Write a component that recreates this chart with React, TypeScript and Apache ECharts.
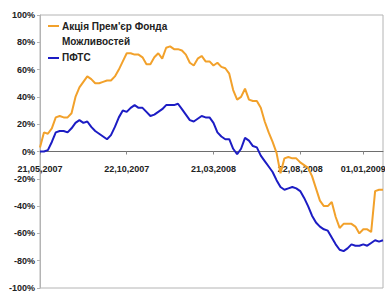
import React, { useEffect, useRef } from "react";
import * as echarts from "echarts";

const seriesNames = ["Акція Прем'єр Фонда Можливостей", "ПФТС"];
const tickLabels = ["21,05,2007", "22,10,2007", "21,03,2008", "22,08,2008", "01,01,2009"];
const tickIndex = [0, 22, 44, 66, 82];

const fundValues = [
  3, 14, 13, 17, 25, 26, 25, 25, 28, 40,
  47, 51, 55, 53, 50, 50, 51, 52, 52, 55,
  60, 66, 72, 72, 71, 71, 69, 64, 64, 69,
  72, 68, 76, 77, 75, 75, 74, 71, 65, 63,
  68, 70, 66, 66, 63, 65, 62, 61, 57, 45,
  38, 40, 46, 38, 37, 37, 32, 22, 14, 7,
  -1, -16, -5, -4, -5, -5, -8, -10, -12, -18,
  -27, -36, -40, -40, -37, -48, -56, -53, -53, -53,
  -55, -60, -57, -57, -59, -29, -28, -28,
];

const pftsValues = [
  0, 0, 1, 7, 14, 15, 15, 14, 17, 21,
  23, 21, 22, 18, 15, 13, 11, 9, 12, 18,
  25, 30, 29, 32, 34, 32, 32, 29, 26, 27,
  29, 31, 34, 34, 34, 35, 31, 27, 23, 22,
  24, 26, 25, 25, 21, 14, 11, 9, 9, 2,
  -2, 2, 10, 8, 4, 3, -3, -7, -11, -15,
  -21, -26, -28, -27, -26, -27, -29, -34, -40, -47,
  -52, -55, -57, -58, -63, -68, -72, -73, -71, -68,
  -69, -69, -68, -69, -67, -65, -66, -65,
];

const categories = fundValues.map((_, i) => String(i));

const ORANGE = "#F2A12B";
const BLUE = "#1C1CC4";
const FONT = "'Liberation Sans', Arial, sans-serif";

export default function App() {
  const ref = useRef<HTMLDivElement>(null);
  useEffect(() => {
    document.body.style.margin = "0";
    const chart = echarts.init(ref.current!, null, { renderer: "svg" });
    const showAt = (i: number) => tickIndex.indexOf(i) >= 0;
    const gridTop = 15;
    const gridBottom = 5;
    const gridHeight = 293 - gridTop - gridBottom;
    chart.setOption({
      animation: false,
      backgroundColor: "#ffffff",
      grid: {
        left: 40,
        right: 2,
        top: gridTop,
        bottom: gridBottom,
        containLabel: false,
        outerBoundsMode: "none",
        show: true,
        borderColor: "#b4b4b4",
        borderWidth: 1,
        backgroundColor: "transparent",
      },
      xAxis: {
        type: "category",
        data: categories,
        boundaryGap: false,
        position: "bottom",
        offset: -gridHeight / 2,
        axisLine: { onZero: false, lineStyle: { color: "#6e6e6e", width: 1 } },
        axisTick: { show: true, interval: (i: number) => showAt(i), length: 3, lineStyle: { color: "#888" } },
        axisLabel: {
          interval: (i: number) => showAt(i),
          formatter: (_v: string, i: number) => {
            const k = tickIndex.indexOf(i);
            return k >= 0 ? tickLabels[k] : "";
          },
          margin: 13,
          fontFamily: FONT,
          fontWeight: "bold",
          fontSize: 9,
          color: "#222",
          showMaxLabel: true,
          showMinLabel: true,
          hideOverlap: false,
        },
        splitLine: { show: false },
      },
      yAxis: {
        type: "value",
        min: -100,
        max: 100,
        interval: 20,
        axisLine: { show: true, lineStyle: { color: "#b4b4b4" } },
        axisTick: { show: true, length: 3, lineStyle: { color: "#b4b4b4" } },
        axisLabel: {
          formatter: (v: number) => `${v}%`,
          margin: 5,
          fontFamily: FONT,
          fontWeight: "bold",
          fontSize: 9,
          color: "#222",
        },
        splitLine: { show: false },
      },
      series: [
        {
          name: seriesNames[0],
          type: "line",
          data: fundValues,
          showSymbol: false,
          lineStyle: { color: ORANGE, width: 2 },
          itemStyle: { color: ORANGE },
          z: 3,
        },
        {
          name: seriesNames[1],
          type: "line",
          data: pftsValues,
          showSymbol: false,
          lineStyle: { color: BLUE, width: 2 },
          itemStyle: { color: BLUE },
          z: 4,
        },
      ],
      graphic: [
        { type: "line", shape: { x1: 48, y1: 26, x2: 59, y2: 26 }, style: { stroke: ORANGE, lineWidth: 2 } },
        {
          type: "text",
          x: 62,
          y: 19,
          style: {
            text: "Акція Прем'єр Фонда\nМожливостей",
            font: `bold 10px ${FONT}`,
            fill: "#222",
            lineHeight: 15,
          },
        },
        { type: "line", shape: { x1: 48, y1: 58, x2: 59, y2: 58 }, style: { stroke: BLUE, lineWidth: 2 } },
        {
          type: "text",
          x: 62,
          y: 52,
          style: { text: seriesNames[1], font: `bold 10px ${FONT}`, fill: "#222" },
        },
      ],
    });
    return () => chart.dispose();
  }, []);
  return <div ref={ref} style={{ position: "fixed", left: 0, top: 0, width: 385, height: 293 }} />;
}
